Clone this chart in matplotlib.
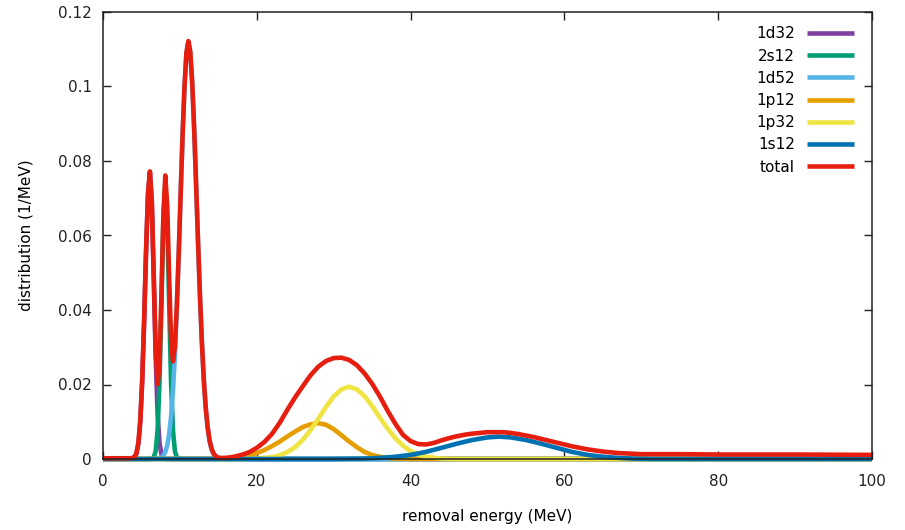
import matplotlib
matplotlib.use('Agg')
import matplotlib.pyplot as plt

plt.rcParams['font.family'] = ['DejaVu Sans']

# 1d32 (purple)
x_1d32 = [0, 3.6, 3.85, 4.1, 4.35, 4.6, 4.85, 5.1, 5.35, 5.6, 5.85, 6.1, 6.35, 6.6,
          6.85, 7.1, 7.35, 7.6, 7.85, 8.1, 100]
y_1d32 = [0, 0, 0.0001, 0.0004, 0.0014, 0.0041, 0.0101, 0.021, 0.0371, 0.0556, 0.071,
          0.077, 0.0686, 0.0485, 0.0272, 0.0121, 0.0043, 0.0012, 0.0003, 0, 0]

# 2s12 (green)
x_2s12 = [0, 6.1, 6.35, 6.6, 6.85, 7.1, 7.35, 7.6, 7.85, 8.1, 8.35, 8.6, 8.85, 9.1,
          9.35, 9.6, 9.85, 10.1, 100]
y_2s12 = [0, 0, 0.0001, 0.0005, 0.0021, 0.0077, 0.0207, 0.042, 0.0642, 0.074, 0.0642,
          0.042, 0.0207, 0.0077, 0.0021, 0.0005, 0.0001, 0, 0]

# 1d52 (light blue)
x_1d52 = [0, 6.6, 7.1, 7.35, 7.6, 7.85, 8.1, 8.35, 8.6, 8.85, 9.1, 9.35, 9.6, 9.85,
          10.1, 10.35, 10.6, 10.85, 11.1, 11.35, 11.6, 11.85, 12.1, 12.35, 12.6,
          12.85, 13.1, 13.35, 13.6, 13.85, 14.1, 14.35, 14.6, 14.85, 15.1, 15.6, 100]
y_1d52 = [0, 0, 0.0001, 0.0002, 0.0004, 0.0009, 0.0019, 0.0036, 0.0066, 0.0113, 0.0183,
          0.0279, 0.0404, 0.0551, 0.0712, 0.0868, 0.1, 0.1089, 0.112, 0.1091, 0.101,
          0.0888, 0.0741, 0.0587, 0.0442, 0.0316, 0.0214, 0.0138, 0.0085, 0.0049,
          0.0027, 0.0014, 0.0007, 0.0003, 0.0001, 0, 0]

# 1p12 (orange)
x_1p12 = [0, 13, 15, 17, 19, 20, 21, 22, 23, 24, 25, 26, 27, 28, 29, 30, 31, 32, 33,
          34, 35, 36, 37, 38, 40, 100]
y_1p12 = [0, 0, 0.0001, 0.0003, 0.001, 0.0016, 0.0024, 0.0035, 0.0047, 0.0061, 0.0074,
          0.0086, 0.0093, 0.0096, 0.0092, 0.008, 0.0064, 0.0047, 0.0032, 0.0019,
          0.0011, 0.0006, 0.0003, 0.0001, 0, 0]

# 1p32 (yellow)
x_1p32 = [0, 18, 20, 22, 23, 24, 25, 26, 27, 28, 29, 30, 31, 32, 33, 34, 35, 36, 37,
          38, 39, 40, 41, 42, 44, 46, 100]
y_1p32 = [0, 0, 0.0001, 0.0005, 0.001, 0.0019, 0.0032, 0.0052, 0.0078, 0.0108, 0.014,
          0.0168, 0.0187, 0.0194, 0.0187, 0.0169, 0.0142, 0.0111, 0.0082, 0.0056,
          0.0036, 0.0021, 0.0012, 0.0006, 0.0001, 0, 0]

# 1s12 (blue)
x_1s12 = [0, 30, 34, 36, 38, 40, 42, 44, 46, 48, 50, 51.5, 53, 55, 57, 59, 61, 63,
          65, 67, 69, 72, 100]
y_1s12 = [0, 0, 0.0001, 0.0003, 0.0006, 0.0011, 0.0019, 0.003, 0.0041, 0.0051, 0.0058,
          0.006, 0.0058, 0.0051, 0.0041, 0.003, 0.0019, 0.0011, 0.0006, 0.0003,
          0.0001, 0, 0]

# total (red)
x_total = [0, 3.6, 3.85, 4.1, 4.35, 4.6, 4.85, 5.1, 5.35, 5.6, 5.85, 6.1, 6.35, 6.6,
           6.85, 7.1, 7.35, 7.6, 7.85, 8.1, 8.35, 8.6, 8.85, 9.1, 9.35, 9.6, 9.85,
           10.1, 10.35, 10.6, 10.85, 11.1, 11.35, 11.6, 11.85, 12.1, 12.35, 12.6,
           12.85, 13.1, 13.35, 13.6, 13.85, 14.1, 14.35, 14.6, 14.85, 15.1,
           16, 17, 18, 19, 20, 21, 22, 23, 24, 25, 26, 27, 28, 29, 30, 31, 32, 33,
           34, 35, 36, 37, 38, 39, 40, 41, 42, 43, 44, 45, 46, 47, 48, 49, 50, 51,
           52, 53, 54, 55, 56, 57, 58, 59, 60, 61, 62, 63, 64, 65, 66, 67, 68, 70,
           75, 80, 90, 100]
y_total = [0.0002, 0.0002, 0.0003, 0.0006, 0.0016, 0.0043, 0.0103, 0.0212, 0.0373,
           0.0558, 0.0712, 0.0772, 0.0689, 0.0492, 0.0295, 0.0201, 0.0254, 0.0438,
           0.0656, 0.0761, 0.068, 0.0488, 0.0322, 0.0262, 0.0302, 0.0411, 0.0554,
           0.0714, 0.087, 0.1002, 0.1091, 0.1122, 0.1093, 0.1012, 0.089, 0.0743,
           0.0589, 0.0444, 0.0318, 0.0216, 0.014, 0.0087, 0.0051, 0.0029, 0.0016,
           0.0009, 0.0005, 0.0003,
           0.0003, 0.0006, 0.0011, 0.0018, 0.003, 0.0046, 0.0068, 0.0098, 0.0133,
           0.0166, 0.0196, 0.0225, 0.0248, 0.0263, 0.0271, 0.0272, 0.0266, 0.0252,
           0.023, 0.0202, 0.0168, 0.013, 0.0095, 0.0065, 0.0048, 0.004, 0.0039,
           0.0043, 0.005, 0.0056, 0.0061, 0.0065, 0.0068, 0.007, 0.0072, 0.0072,
           0.0072, 0.007, 0.0067, 0.0063, 0.0059, 0.0054, 0.0049, 0.0044, 0.0039,
           0.0034, 0.003, 0.0026, 0.0023, 0.002, 0.0018, 0.0016, 0.0015, 0.0013,
           0.0013, 0.0012, 0.0012, 0.0011]

series = [
    ('1d32', x_1d32, y_1d32, '#8040a0'),
    ('2s12', x_2s12, y_2s12, '#009e73'),
    ('1d52', x_1d52, y_1d52, '#56b4e9'),
    ('1p12', x_1p12, y_1p12, '#e69f00'),
    ('1p32', x_1p32, y_1p32, '#f0e442'),
    ('1s12', x_1s12, y_1s12, '#0072b2'),
    ('total', x_total, y_total, '#e51e10'),
]

x_ticks = [0, 20, 40, 60, 80, 100]
y_ticks = [0, 0.02, 0.04, 0.06, 0.08, 0.1, 0.12]
y_ticklabels = ['0', '0.02', '0.04', '0.06', '0.08', '0.1', '0.12']

fig = plt.figure(figsize=(9.05, 5.3), dpi=100)
ax = fig.add_axes([103 / 905, 71 / 530, 769 / 905, 447 / 530])

# 曲线
for name, xs, ys, col in series:
    ax.plot(xs, ys, color=col, lw=3.3, label=name, clip_on=False,
            solid_capstyle='butt', solid_joinstyle='round')

ax.set_xlim(0, 100)
ax.set_ylim(0, 0.12)
ax.set_xticks(x_ticks)
ax.set_yticks(y_ticks)
ax.set_yticklabels(y_ticklabels)
ax.tick_params(direction='in', length=6, width=1, top=True, right=True,
               labelsize=11, colors='#222222')
ax.tick_params(axis='x', pad=11)
ax.tick_params(axis='y', pad=8)
for sp in ax.spines.values():
    sp.set_linewidth(1.1)
    sp.set_color('#222222')
    sp.set_zorder(5)

ax.set_xlabel('removal energy (MeV)', fontsize=11, labelpad=14)
ax.set_ylabel('distribution (1/MeV)', fontsize=11, labelpad=18)

# 图例: 文字在左, 线段在右
ax.legend(loc='upper right', bbox_to_anchor=(1, 1.007), frameon=False,
          markerfirst=False, fontsize=11, handlelength=3.1, handletextpad=0.8,
          labelspacing=0.47, borderaxespad=0.85, borderpad=0.3)

fig.savefig('out.png', dpi=100)
